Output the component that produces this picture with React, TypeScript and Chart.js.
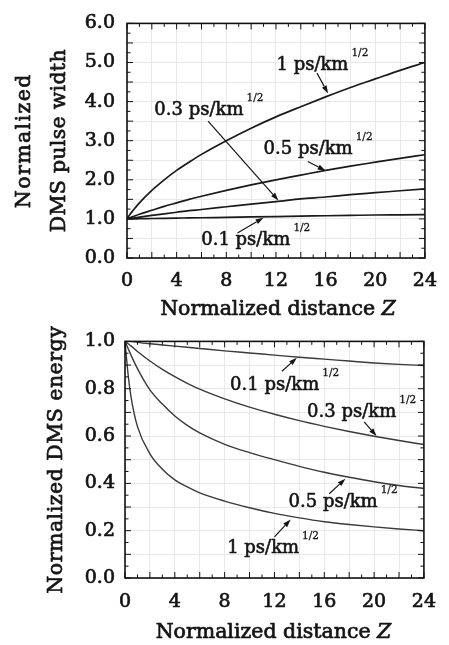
import { useEffect, useRef } from "react";
import { Chart, registerables } from "chart.js";
Chart.register(...registerables);

// Normalized distance Z (shared sampling points)
const Z = [0, 0.25, 0.5, 1, 2, 3, 4, 5, 6, 8, 10, 12, 14, 16, 18, 20, 22, 24];

// Top panel: normalized DMS pulse width
const WIDTH_1 = [1.0, 1.12, 1.22, 1.41, 1.73, 2.0, 2.24, 2.45, 2.65, 3.0, 3.32, 3.61, 3.87, 4.12, 4.36, 4.58, 4.8, 5.0];
const WIDTH_05 = [1.0, 1.03, 1.06, 1.12, 1.22, 1.32, 1.41, 1.5, 1.58, 1.73, 1.87, 2.0, 2.12, 2.24, 2.35, 2.45, 2.55, 2.64];
const WIDTH_03 = [1.0, 1.01, 1.02, 1.045, 1.09, 1.13, 1.17, 1.21, 1.24, 1.31, 1.38, 1.44, 1.51, 1.56, 1.62, 1.67, 1.72, 1.77];
const WIDTH_01 = [1.0, 1.0, 1.0, 1.005, 1.01, 1.015, 1.02, 1.025, 1.03, 1.04, 1.05, 1.06, 1.07, 1.08, 1.09, 1.1, 1.105, 1.11];

// Bottom panel: normalized DMS energy
const ENERGY_1 = [1.0, 0.86, 0.76, 0.64, 0.525, 0.46, 0.415, 0.385, 0.36, 0.325, 0.297, 0.273, 0.254, 0.238, 0.226, 0.216, 0.207, 0.2];
const ENERGY_05 = [1.0, 0.97, 0.94, 0.885, 0.795, 0.735, 0.685, 0.645, 0.613, 0.565, 0.53, 0.5, 0.472, 0.447, 0.426, 0.407, 0.391, 0.378];
const ENERGY_03 = [1.0, 0.99, 0.98, 0.957, 0.917, 0.882, 0.851, 0.823, 0.798, 0.757, 0.722, 0.692, 0.665, 0.641, 0.619, 0.599, 0.581, 0.564];
const ENERGY_01 = [1.0, 1.0, 1.0, 0.996, 0.99, 0.985, 0.98, 0.975, 0.97, 0.96, 0.951, 0.942, 0.933, 0.925, 0.917, 0.909, 0.903, 0.898];

// Tick labels
const X_TICK_LABELS = ["0", "4", "8", "12", "16", "20", "24"];
const WIDTH_TICK_LABELS = ["0.0", "1.0", "2.0", "3.0", "4.0", "5.0", "6.0"];
const ENERGY_TICK_LABELS = ["0.0", "0.2", "0.4", "0.6", "0.8", "1.0"];

// Curve labels (text anchor and arrow given in data coordinates)
const TOP_LABELS = [
  { main: "1 ps/km", sup: "1/2", tx: 12.04, ty: 4.8, ax0: 15.3, ay0: 4.73, ax1: 16.2, ay1: 4.21 },
  { main: "0.3 ps/km", sup: "1/2", tx: 2.2, ty: 3.67, ax0: 6.53, ay0: 3.5, ax1: 12.2, ay1: 1.47 },
  { main: "0.5 ps/km", sup: "1/2", tx: 11.0, ty: 2.65, ax0: 14.56, ay0: 2.47, ax1: 16.0, ay1: 2.23 },
  { main: "0.1 ps/km", sup: "1/2", tx: 5.98, ty: 0.32, ax0: 8.9, ay0: 0.64, ax1: 11.0, ay1: 1.03 },
];
const BOTTOM_LABELS = [
  { main: "0.1 ps/km", sup: "1/2", tx: 8.44, ty: 0.795, ax0: 12.6, ay0: 0.874, ax1: 13.8, ay1: 0.931 },
  { main: "0.3 ps/km", sup: "1/2", tx: 14.62, ty: 0.68, ax0: 19.2, ay0: 0.66, ax1: 20.2, ay1: 0.6 },
  { main: "0.5 ps/km", sup: "1/2", tx: 13.13, ty: 0.302, ax0: 16.4, ay0: 0.356, ax1: 17.7, ay1: 0.42 },
  { main: "1 ps/km", sup: "1/2", tx: 8.2, ty: 0.106, ax0: 12.0, ay0: 0.174, ax1: 13.3, ay1: 0.247 },
];

const FONT = "'DejaVu Serif', 'Liberation Serif', serif";
const INK = "#141414";

const frameAndTicks = {
  id: "frameAndTicks",
  afterDatasetsDraw(chart: any, _args: any, opts: any) {
    const { ctx, chartArea: a, scales } = chart;
    const x = scales.x;
    const y = scales.y;
    ctx.save();
    ctx.strokeStyle = "#111";
    ctx.lineWidth = 1;
    const seg = (x0: number, y0: number, x1: number, y1: number) => {
      ctx.beginPath();
      ctx.moveTo(x0, y0);
      ctx.lineTo(x1, y1);
      ctx.stroke();
    };
    const isMajor = (v: number, m: number) => Math.abs(v / m - Math.round(v / m)) < 1e-6;
    const nx = Math.round((x.max - x.min) / opts.xMinor);
    for (let i = 0; i <= nx; i++) {
      const v = x.min + i * opts.xMinor;
      const len = isMajor(v, opts.xMajor) ? 6 : 3.5;
      const px = x.getPixelForValue(v);
      seg(px, a.bottom, px, a.bottom - len);
      seg(px, a.top, px, a.top + len);
    }
    const ny = Math.round((y.max - y.min) / opts.yMinor);
    for (let i = 0; i <= ny; i++) {
      const v = y.min + i * opts.yMinor;
      const len = isMajor(v, opts.yMajor) ? 6 : 3.5;
      const py = y.getPixelForValue(v);
      seg(a.left, py, a.left + len, py);
      seg(a.right, py, a.right - len, py);
    }
    ctx.lineWidth = 1.6;
    ctx.strokeRect(a.left, a.top, a.right - a.left, a.bottom - a.top);
    ctx.restore();
  },
};

function heavyText(ctx: any, text: string, x: number, y: number, sw: number) {
  ctx.lineWidth = sw;
  ctx.lineJoin = "round";
  ctx.strokeText(text, x, y);
  ctx.fillText(text, x, y);
}

const curveLabels = {
  id: "curveLabels",
  afterDatasetsDraw(chart: any, _args: any, opts: any) {
    const { ctx, scales } = chart;
    const x = scales.x;
    const y = scales.y;
    ctx.save();
    ctx.fillStyle = INK;
    ctx.strokeStyle = INK;
    for (const l of opts.items || []) {
      const tx = x.getPixelForValue(l.tx);
      const ty = y.getPixelForValue(l.ty);
      ctx.font = `18px ${FONT}`;
      ctx.textAlign = "left";
      ctx.textBaseline = "alphabetic";
      heavyText(ctx, l.main, tx, ty, 0.6);
      const w = ctx.measureText(l.main).width;
      ctx.font = `10.5px ${FONT}`;
      heavyText(ctx, l.sup, tx + w + 3, ty - 14, 0.3);
      // arrow
      const x0 = x.getPixelForValue(l.ax0);
      const y0 = y.getPixelForValue(l.ay0);
      const x1 = x.getPixelForValue(l.ax1);
      const y1 = y.getPixelForValue(l.ay1);
      const ang = Math.atan2(y1 - y0, x1 - x0);
      const hl = 8;
      const hw = 2.6;
      const bx = x1 - hl * Math.cos(ang);
      const by = y1 - hl * Math.sin(ang);
      ctx.lineWidth = 1.2;
      ctx.beginPath();
      ctx.moveTo(x0, y0);
      ctx.lineTo(bx, by);
      ctx.stroke();
      ctx.beginPath();
      ctx.moveTo(x1, y1);
      ctx.lineTo(bx + hw * Math.sin(ang), by - hw * Math.cos(ang));
      ctx.lineTo(bx - hw * Math.sin(ang), by + hw * Math.cos(ang));
      ctx.closePath();
      ctx.fill();
    }
    ctx.restore();
  },
};

const axisTitles = {
  id: "axisTitles",
  afterDraw(chart: any, _args: any, opts: any) {
    const { ctx, chartArea: a } = chart;
    ctx.save();
    ctx.fillStyle = INK;
    ctx.strokeStyle = INK;
    ctx.textBaseline = "middle";
    const f = `20.5px ${FONT}`;
    const fi = `italic 20.5px ${FONT}`;
    ctx.font = f;
    const main = "Normalized distance ";
    const wMain = ctx.measureText(main).width;
    ctx.font = fi;
    const wZ = ctx.measureText("Z").width;
    const cx = (a.left + a.right) / 2 + (opts.xShift || 0);
    const startX = cx - (wMain + wZ) / 2;
    const yT = a.bottom + opts.xTitleOffset;
    ctx.textAlign = "left";
    ctx.font = f;
    heavyText(ctx, main, startX, yT, 0.7);
    ctx.font = fi;
    heavyText(ctx, "Z", startX + wMain, yT, 0.7);
    ctx.textAlign = "center";
    const cy = (a.top + a.bottom) / 2;
    for (const ln of opts.yLines) {
      ctx.save();
      ctx.translate(a.left - ln.offset, cy);
      ctx.rotate(-Math.PI / 2);
      ctx.font = `${ln.size}px ${FONT}`;
      (ctx as any).letterSpacing = `${ln.spacing}px`;
      heavyText(ctx, ln.text, 0, 0, 0.7);
      ctx.restore();
    }
    ctx.restore();
  },
};

function makeDataset(values: number[], color: string, width: number) {
  return {
    data: Z.map((z, i) => ({ x: z, y: values[i] })),
    borderColor: color,
    borderWidth: width,
    pointRadius: 0,
    fill: false,
    cubicInterpolationMode: "monotone" as const,
  };
}

function buildConfig(kind: "top" | "bottom") {
  const isTop = kind === "top";
  const datasets = isTop
    ? [WIDTH_1, WIDTH_05, WIDTH_03, WIDTH_01].map((v) => makeDataset(v, "#1a1a1a", 1.7))
    : [ENERGY_1, ENERGY_05, ENERGY_03, ENERGY_01].map((v) => makeDataset(v, "#3a3a3a", 1.4));
  const yLabels = isTop ? WIDTH_TICK_LABELS : ENERGY_TICK_LABELS;
  const tickFont = { family: FONT, size: 19 };
  return {
    type: "line" as const,
    data: { datasets },
    options: {
      animation: false,
      responsive: false,
      events: [],
      layout: { padding: { left: 0, right: 17, top: isTop ? 13 : 11, bottom: 0 } },
      plugins: {
        legend: { display: false },
        tooltip: { enabled: false },
        frameAndTicks: isTop
          ? { xMinor: 1, xMajor: 2, yMinor: 0.25, yMajor: 0.5 }
          : { xMinor: 1, xMajor: 2, yMinor: 0.05, yMajor: 0.1 },
        curveLabels: { items: isTop ? TOP_LABELS : BOTTOM_LABELS },
        axisTitles: isTop
          ? {
              xTitleOffset: 52,
              xShift: 2,
              yLines: [
                { text: "Normalized", offset: 102, size: 20.5, spacing: 1.4 },
                { text: "DMS pulse width", offset: 67, size: 20.5, spacing: 0.3 },
              ],
            }
          : {
              xTitleOffset: 55,
              xShift: -1,
              yLines: [{ text: "Normalized DMS energy", offset: 68, size: 20.5, spacing: 0.5 }],
            },
      },
      scales: {
        x: {
          type: "linear" as const,
          min: 0,
          max: 24,
          afterFit: (s: any) => {
            s.height = isTop ? 62 : 67;
          },
          border: { display: false },
          grid: { color: "#e8e8e8", lineWidth: 1, drawTicks: false },
          ticks: {
            stepSize: 2,
            autoSkip: false,
            maxRotation: 0,
            padding: isTop ? 12 : 13,
            color: INK,
            textStrokeColor: INK,
            textStrokeWidth: 0.7,
            font: tickFont,
            callback: (v: any) => {
              const s = String(Math.round(Number(v)));
              return X_TICK_LABELS.includes(s) ? s : "";
            },
          },
        },
        y: {
          type: "linear" as const,
          min: 0,
          max: isTop ? 6 : 1,
          afterFit: (s: any) => {
            s.width = isTop ? 127 : 125;
          },
          border: { display: false },
          grid: { color: "#e8e8e8", lineWidth: 1, drawTicks: false },
          ticks: {
            stepSize: isTop ? 0.5 : 0.1,
            autoSkip: false,
            padding: isTop ? 12 : 10,
            color: INK,
            textStrokeColor: INK,
            textStrokeWidth: 0.7,
            font: tickFont,
            callback: (v: any) => {
              const s = Number(v).toFixed(1);
              return yLabels.includes(s) ? s : "";
            },
          },
        },
      },
    },
    plugins: [frameAndTicks, curveLabels, axisTitles],
  };
}

function Panel({ kind, top, height }: { kind: "top" | "bottom"; top: number; height: number }) {
  const ref = useRef<HTMLCanvasElement | null>(null);
  useEffect(() => {
    if (!ref.current) return;
    const chart = new Chart(ref.current, buildConfig(kind) as any);
    return () => chart.destroy();
  }, [kind]);
  return (
    <canvas
      ref={ref}
      width={449}
      height={height}
      style={{ position: "absolute", left: 0, top, width: 449, height }}
    />
  );
}

export default function App() {
  return (
    <div style={{ position: "absolute", left: 0, top: 0, width: 449, height: 645, background: "#fff" }}>
      <Panel kind="top" top={0} height={320} />
      <Panel kind="bottom" top={320} height={325} />
    </div>
  );
}
